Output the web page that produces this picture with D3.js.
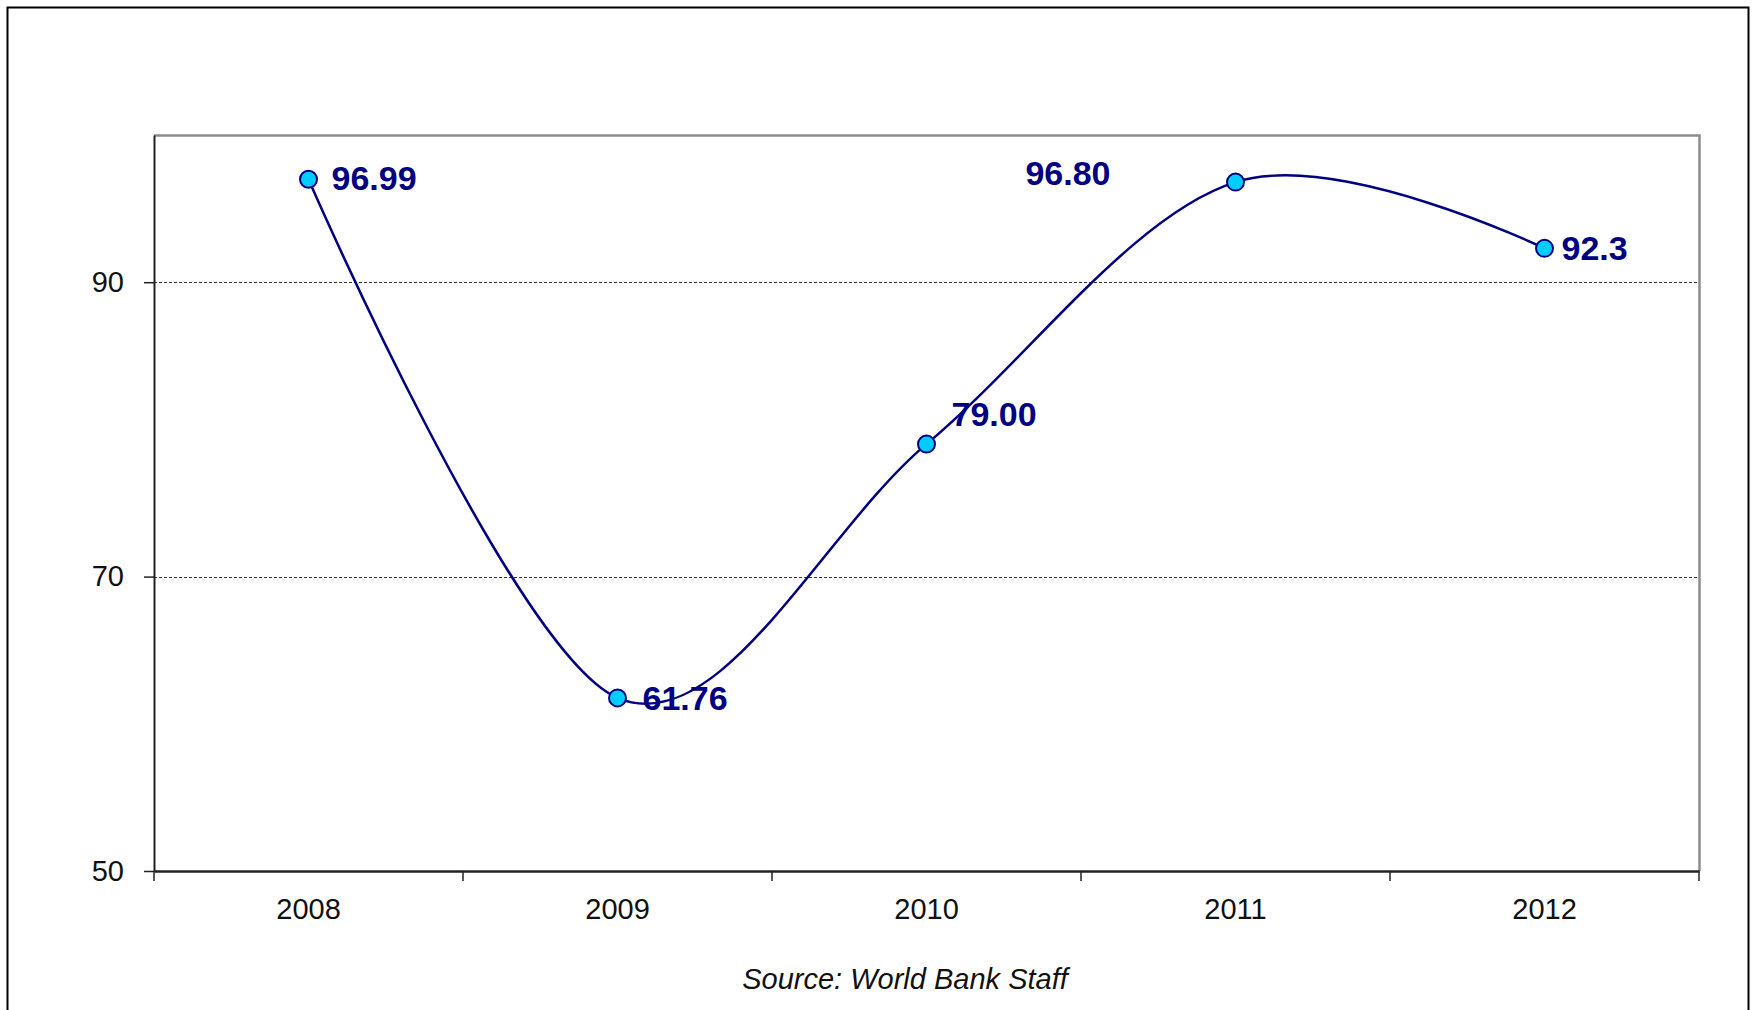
<!DOCTYPE html>
<html>
<head>
<meta charset="utf-8">
<script src="https://cdn.jsdelivr.net/npm/d3@7"></script>
<style>
  html, body { margin: 0; padding: 0; background: #fff; }
  svg { display: block; }
</style>
</head>
<body>
<svg id="chart" width="1754" height="1010"></svg>
<script>
// Yearly index values
const years = ["2008", "2009", "2010", "2011", "2012"];
const values = [96.99, 61.76, 79.00, 96.80, 92.3];
const valueLabels = ["96.99", "61.76", "79.00", "96.80", "92.3"];
const yTicks = [50, 70, 90];
const sourceText = "Source: World Bank Staff";

const svg = d3.select("#chart");
const W = 1754, H = 1010;
const plot = { left: 154, top: 135, right: 1699, bottom: 871 };

// Outer frame (open at the bottom edge of the page)
svg.append("rect")
  .attr("x", 7.5).attr("y", 7.5)
  .attr("width", 1741).attr("height", H + 20)
  .attr("fill", "#fff").attr("stroke", "#000").attr("stroke-width", 2);

const x = d3.scaleBand().domain(years).range([plot.left, plot.right]);
const y = d3.scaleLinear().domain([50, 100]).range([plot.bottom, plot.top]);

// Plot frame: grey top/right
svg.append("path")
  .attr("d", `M${plot.left},${plot.top + 0.5}H${plot.right + 0.5}V${plot.bottom}`)
  .attr("fill", "none").attr("stroke", "#8c8c8c").attr("stroke-width", 2.5);

// Dashed horizontal gridlines
svg.append("g")
  .selectAll("line")
  .data(yTicks.filter(v => v > 50))
  .join("line")
  .attr("x1", plot.left).attr("x2", plot.right)
  .attr("y1", d => Math.round(y(d)) + 0.5).attr("y2", d => Math.round(y(d)) + 0.5)
  .attr("stroke", "#333").attr("stroke-width", 1)
  .attr("stroke-dasharray", "3,2");

const font = "'Liberation Sans', Arial, sans-serif";

// Y axis
const yAxis = svg.append("g")
  .attr("transform", `translate(${plot.left},0)`)
  .call(d3.axisLeft(y).tickValues(yTicks).tickSizeInner(10).tickSizeOuter(0)
    .tickPadding(20).tickFormat(d3.format("d")));
yAxis.select(".domain").attr("stroke", "#222").attr("stroke-width", 2);
yAxis.selectAll(".tick line").attr("stroke", "#222").attr("stroke-width", 1.5);
yAxis.selectAll(".tick text")
  .attr("font-family", font).attr("font-size", 29).attr("fill", "#111");

// X axis with ticks on category boundaries
const xAxis = svg.append("g")
  .attr("transform", `translate(0,${plot.bottom})`)
  .call(d3.axisBottom(x).tickSize(0).tickPadding(27));
xAxis.select(".domain").attr("stroke", "#222").attr("stroke-width", 2.5);
xAxis.selectAll(".tick text")
  .attr("font-family", font).attr("font-size", 29).attr("fill", "#111");
const bounds = years.map(d => x(d)).concat([x(years[years.length - 1]) + x.bandwidth()]);
xAxis.selectAll("line.bound")
  .data(bounds)
  .join("line")
  .attr("class", "bound")
  .attr("x1", d => d).attr("x2", d => d)
  .attr("y1", 0).attr("y2", 10)
  .attr("stroke", "#222").attr("stroke-width", 1.5);

// Smoothed series line
const pts = years.map((yr, i) => ({ yr, v: values[i], label: valueLabels[i] }));
const line = d3.line()
  .x(d => x(d.yr) + x.bandwidth() / 2)
  .y(d => y(d.v))
  .curve(d3.curveCardinal.tension(0));
svg.append("path")
  .datum(pts)
  .attr("d", line)
  .attr("fill", "none").attr("stroke", "#000080").attr("stroke-width", 2.5);

// Markers
svg.append("g")
  .selectAll("circle")
  .data(pts)
  .join("circle")
  .attr("cx", d => x(d.yr) + x.bandwidth() / 2)
  .attr("cy", d => y(d.v))
  .attr("r", 8.5)
  .attr("fill", "#00ccff").attr("stroke", "#000080").attr("stroke-width", 2);

// Value labels (offsets relative to each marker)
const labelOffsets = [[23, 11], [25, 12], [25, -18], [-125, 3], [17, 12]];
const labelAnchors = ["start", "start", "start", "end", "start"];
svg.append("g")
  .selectAll("text")
  .data(pts)
  .join("text")
  .attr("x", (d, i) => x(d.yr) + x.bandwidth() / 2 + labelOffsets[i][0])
  .attr("y", (d, i) => y(d.v) + labelOffsets[i][1])
  .attr("text-anchor", (d, i) => labelAnchors[i])
  .attr("font-family", font).attr("font-size", 34).attr("font-weight", "bold")
  .attr("fill", "#000080")
  .text(d => d.label);

// Source note
svg.append("text")
  .attr("x", 905).attr("y", 989)
  .attr("text-anchor", "middle")
  .attr("font-family", font).attr("font-size", 29).attr("font-style", "italic")
  .attr("fill", "#111")
  .text(sourceText);
</script>
</body>
</html>
